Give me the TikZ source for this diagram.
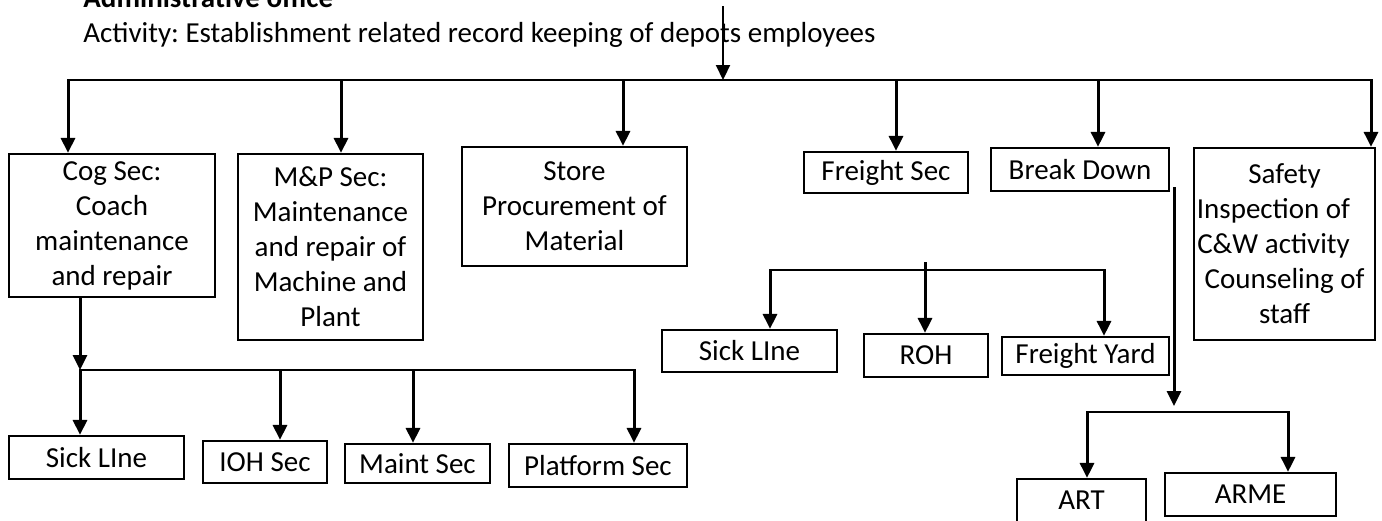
\documentclass[tikz,border=0pt]{standalone}
\usepackage{fontspec}
\setmainfont{Carlito}
\usetikzlibrary{arrows.meta}
\frenchspacing

\begin{document}
\begin{tikzpicture}[x=0.5pt, y=-0.5pt]
        \tikzstyle{block}=[draw,line width=1.1pt,align=center,inner sep=1pt,font=\fontsize{14.5}{17.5}\selectfont]
        \tikzstyle{plain}=[inner sep=0pt,font=\fontsize{14.5}{17.5}\selectfont]
        \tikzstyle{arr}=[line width=1.5pt,line cap=rect,-{Triangle[length=7.5pt,width=7pt]}]
        \tikzstyle{bus}=[line width=1.1pt,line cap=rect]

        \clip (0,0) rectangle (1382,520);

        \node[plain,anchor=base west,font={\fontsize{14.5}{17.5}\selectfont\bfseries}] (T_1) at (83,7) {Administrative office};
        \node[plain,anchor=base west] (T_2) at (83,42) {Activity: Establishment related record keeping of depots employees};

        \node[block,minimum width=103pt,minimum height=71.5pt] (A_1) at (112,225.5) {Cog Sec:\\Coach\\maintenance\\and repair};
        \node[block,minimum width=92.5pt,minimum height=93pt] (A_2) at (330.5,247) {M\&P Sec:\\Maintenance\\and repair of\\Machine and\\Plant};
        \node[block,minimum width=112.5pt,minimum height=59.5pt] (A_3) at (574.5,206.5) {Store\\Procurement of\\Material};
        \node[block,minimum width=82pt,minimum height=20.5pt] (A_4) at (886,172.5) {Freight Sec};
        \node[block,minimum width=89pt,minimum height=21.5pt] (A_5) at (1080,169.5) {Break Down};
        \node[block,minimum width=90.5pt,minimum height=96pt] (A_6) at (1284.5,244) {Safety\\\hspace*{-11pt}Inspection of\\\hspace*{-11pt}C\&W activity\\Counseling of\\staff};

        \node[block,minimum width=87.5pt,minimum height=21.5pt] (C_1) at (96.5,457.5) {Sick LIne};
        \node[block,minimum width=62pt,minimum height=21pt] (C_2) at (265,462) {IOH Sec};
        \node[block,minimum width=72.5pt,minimum height=19.5pt] (C_3) at (417.5,463.5) {Maint Sec};
        \node[block,minimum width=89pt,minimum height=21.5pt] (C_4) at (598,465.5) {Platform Sec};

        \node[block,minimum width=87.5pt,minimum height=21pt] (F_1) at (749.5,351) {Sick LIne};
        \node[block,minimum width=62pt,minimum height=21.5pt] (F_2) at (926,355.5) {ROH};
        \node[block,minimum width=83.5pt,minimum height=19pt] (F_3) at (1085.5,356) {Freight Yard};

        \node[block,minimum width=64.5pt,minimum height=21.5pt] (D_1) at (1081.5,500.5) {ART};
        \node[block,minimum width=85.5pt,minimum height=21.5pt] (D_2) at (1250.5,494.5) {ARME};

        \coordinate (J_0) at (723,7);
        \coordinate (J_7) at (723,80);
        \coordinate (J_1) at (68,80);
        \coordinate (J_2) at (341,80);
        \coordinate (J_3) at (623,80);
        \coordinate (J_4) at (896,80);
        \coordinate (J_5) at (1098,80);
        \coordinate (J_6) at (1371,80);

        \draw[arr,line width=1.1pt] (J_0) -- (J_7);
        \draw[bus] (J_1) -- (J_6);
        \draw[arr] (J_1) -- (J_1 |- A_1.north);
        \draw[arr] (J_2) -- (J_2 |- A_2.north);
        \draw[arr] (J_3) -- (J_3 |- A_3.north);
        \draw[arr] (J_4) -- (J_4 |- A_4.north);
        \draw[arr] (J_5) -- (J_5 |- A_5.north);
        \draw[arr] (J_6) -- (J_6 |- A_6.north);

        \coordinate (K_1) at (80,370);
        \coordinate (K_2) at (280,370);
        \coordinate (K_3) at (413,370);
        \coordinate (K_4) at (634,370);

        \draw[arr] (A_1.south -| K_1) -- (K_1);
        \draw[bus] (K_1) -- (K_4);
        \draw[arr] (K_1) -- (K_1 |- C_1.north);
        \draw[arr] (K_2) -- (K_2 |- C_2.north);
        \draw[arr] (K_3) -- (K_3 |- C_3.north);
        \draw[arr] (K_4) -- (K_4 |- C_4.north);

        \coordinate (L_0) at (925,263);
        \coordinate (L_1) at (770,270);
        \coordinate (L_3) at (1104,270);

        \draw[bus] (L_1) -- (L_3);
        \draw[arr] (L_1) -- (L_1 |- F_1.north);
        \draw[arr] (L_0) -- (L_0 |- F_2.north);
        \draw[arr] (L_3) -- (L_3 |- F_3.north);

        \coordinate (M_0) at (1174,188);
        \coordinate (M_3) at (1174,406);
        \coordinate (M_1) at (1087,412);
        \coordinate (M_2) at (1288,412);

        \draw[arr] (M_0) -- (M_3);
        \draw[bus] (M_1) -- (M_2);
        \draw[arr] (M_1) -- (M_1 |- D_1.north);
        \draw[arr] (M_2) -- (M_2 |- D_2.north);
\end{tikzpicture}
\end{document}
